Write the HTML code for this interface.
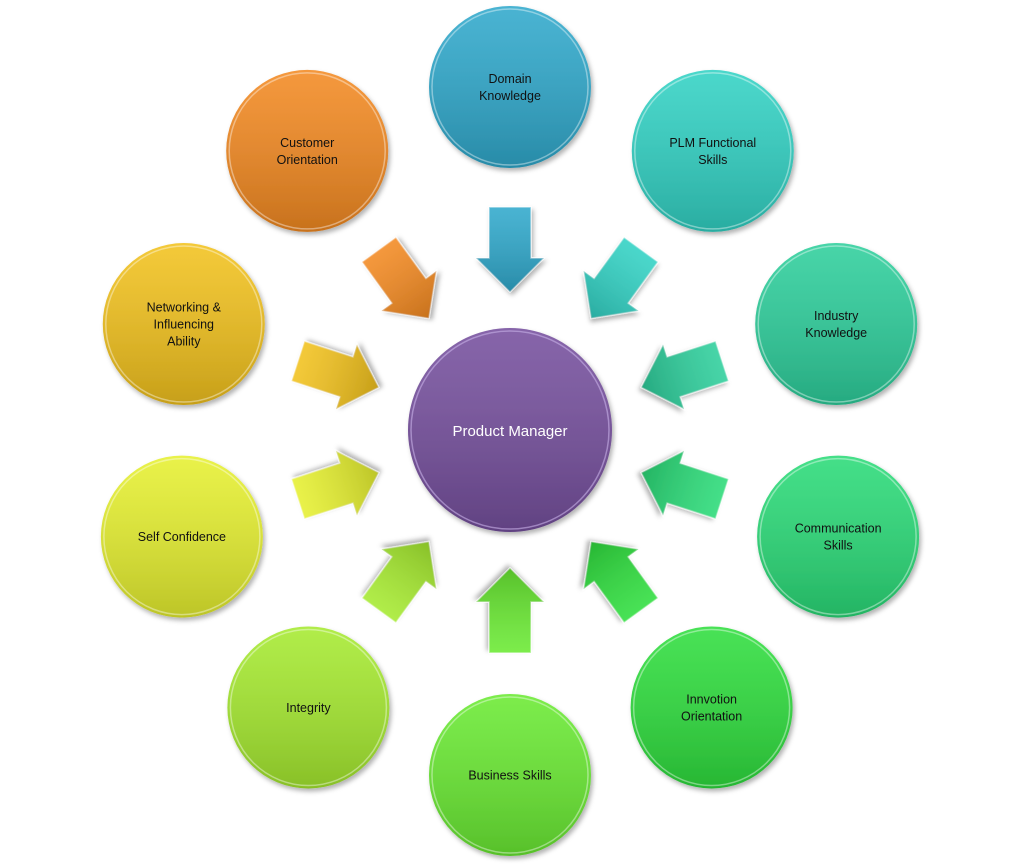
<!DOCTYPE html>
<html><head><meta charset="utf-8"><style>
html,body{margin:0;padding:0;background:#fff;width:1024px;height:868px;overflow:hidden}
svg{display:block}
text{font-family:"Liberation Sans",sans-serif;font-size:12.5px;fill:#111;text-anchor:middle}
</style></head><body>
<svg width="1024" height="868" viewBox="0 0 1024 868" xmlns="http://www.w3.org/2000/svg">
<defs>
<linearGradient id="shade" x1="0" y1="0" x2="0" y2="1">
<stop offset="0" stop-color="#fff" stop-opacity="0.12"/>
<stop offset="1" stop-color="#000" stop-opacity="0.18"/>
</linearGradient>
<filter id="sh" x="-20%" y="-20%" width="140%" height="140%"><feDropShadow dx="2" dy="3" stdDeviation="2.5" flood-opacity="0.3"/></filter>
</defs>
<g id="arrows"></g>
<g id="circles"></g>
<g filter="url(#sh)"><circle cx="510" cy="430" r="102" fill="#76509e"/><circle cx="510" cy="430" r="102" fill="url(#shade)"/>
<circle cx="510" cy="430" r="99" fill="none" stroke="#c8b0e8" stroke-width="1.5" stroke-opacity="0.6"/></g>
<text x="510" y="436" style="fill:#fff;font-size:15px">Product Manager</text>
</svg>
<script>
const C=[510,430];
const items=[
["#30a9cc",["Domain","Knowledge"]],
["#32d2c4",["PLM Functional","Skills"]],
["#2ecf9c",["Industry","Knowledge"]],
["#2bdb78",["Communication","Skills"]],
["#2fde3e",["Innvotion","Orientation"]],
["#6aea33",["Business Skills"]],
["#a6ea30",["Integrity"]],
["#e6f030",["Self Confidence"]],
["#f2c21e",["Networking &","Influencing","Ability"]],
["#f38a22",["Customer","Orientation"]]
];
const ns="http://www.w3.org/2000/svg";
const A=document.getElementById("arrows"),G=document.getElementById("circles");
items.forEach((it,i)=>{
 const ang=i*36*Math.PI/180, R=(i%2==0)?343:345;
 const cx=C[0]+R*Math.sin(ang), cy=C[1]-R*Math.cos(ang);
 // arrow
 const g=document.createElementNS(ns,"g");
 g.setAttribute("transform",`translate(${C[0]},${C[1]}) rotate(${i*36})`);
 g.setAttribute("filter","url(#sh)");
 const p=document.createElementNS(ns,"path");
 p.setAttribute("d","M-21,-223 L21,-223 L21,-172 L34,-172 L0,-138 L-34,-172 L-21,-172 Z");
 p.setAttribute("fill",it[0]);
 p.setAttribute("stroke","#ffffff");p.setAttribute("stroke-opacity","0.55");p.setAttribute("stroke-width","1.5");
 g.appendChild(p);
 const p2=p.cloneNode();p2.setAttribute("fill","url(#shade)");p2.setAttribute("stroke","none");g.appendChild(p2);
 A.appendChild(g);
 // circle
 const cg=document.createElementNS(ns,"g");cg.setAttribute("filter","url(#sh)");
 const c=document.createElementNS(ns,"circle");c.setAttribute("cx",cx);c.setAttribute("cy",cy);c.setAttribute("r",81);c.setAttribute("fill",it[0]);cg.appendChild(c);
 const c2=c.cloneNode();c2.setAttribute("fill","url(#shade)");cg.appendChild(c2);
 const c3=document.createElementNS(ns,"circle");c3.setAttribute("cx",cx);c3.setAttribute("cy",cy);c3.setAttribute("r",78);c3.setAttribute("fill","none");c3.setAttribute("stroke","#fff");c3.setAttribute("stroke-opacity","0.4");c3.setAttribute("stroke-width","1.5");cg.appendChild(c3);
 G.appendChild(cg);
 const lines=it[1], lh=17, y0=cy-(lines.length-1)*lh/2+4.5;
 lines.forEach((l,k)=>{const t=document.createElementNS(ns,"text");t.setAttribute("x",cx);t.setAttribute("y",y0+k*lh);t.textContent=l;G.appendChild(t);});
});
</script>
</body></html>
